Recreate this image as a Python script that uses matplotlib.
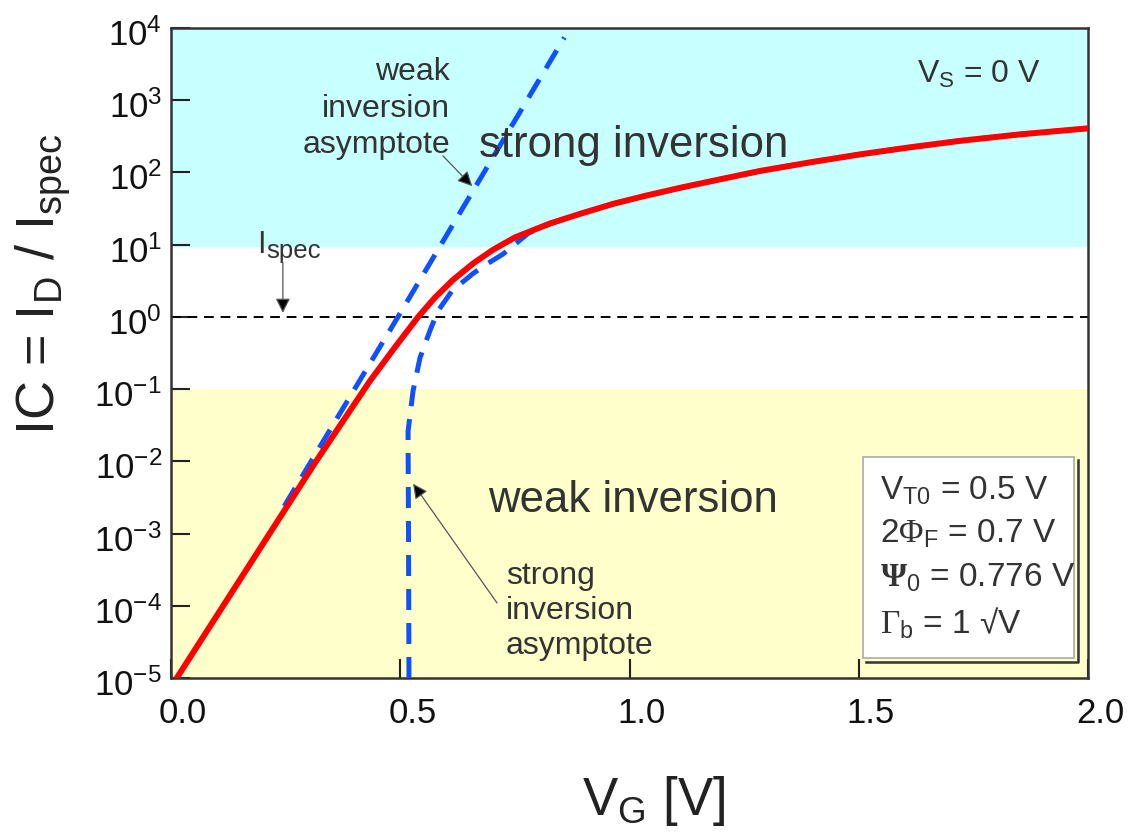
import numpy as np
import matplotlib
matplotlib.use("Agg")
import matplotlib.pyplot as plt
from matplotlib.patches import Rectangle
from matplotlib.lines import Line2D
from matplotlib.transforms import ScaledTranslation
from matplotlib.ticker import FixedLocator, FixedFormatter

plt.rcParams['font.family'] = ['Liberation Sans', 'DejaVu Sans']
plt.rcParams['mathtext.fontset'] = 'custom'
plt.rcParams['mathtext.rm'] = 'Liberation Sans'
plt.rcParams['mathtext.it'] = 'Liberation Sans:italic'
plt.rcParams['mathtext.sf'] = 'Liberation Serif'
plt.rcParams['mathtext.bf'] = 'Liberation Serif:bold'

# ---------------- data ----------------
# device characteristic IC = ID/Ispec versus VG
vg_device = [0.000, 0.314, 0.434, 0.489, 0.539, 0.576, 0.615, 0.659, 0.702,
             0.750, 0.827, 0.892, 0.964, 1.034, 1.110, 1.197, 1.285, 1.394,
             1.503, 1.612, 1.721, 1.852, 2.000]
ic_device = [7.5e-6, 9.5e-3, 0.130, 0.384, 1.0, 1.86, 3.25, 5.5, 8.47,
             12.6, 19.7, 26.7, 36.7, 47.4, 61.2, 80.2, 105.0, 138.0,
             178.0, 223.0, 274.0, 337.0, 408.0]

# weak inversion asymptote (exponential -> straight on log axis)
vg_weak = [0.247, 0.495, 0.858]
ic_weak = [2.4e-3, 1.0, 7400.0]

# strong inversion asymptote
vg_strong = [0.519, 0.518, 0.517, 0.528, 0.543, 0.565, 0.582, 0.613, 0.659,
             0.689, 0.724, 0.780, 0.827, 0.892, 0.964, 1.034, 1.110, 1.197,
             1.285, 1.394, 1.503, 1.612, 1.721, 1.852, 2.000]
ic_strong = [1e-5, 1e-3, 0.026, 0.095, 0.27, 0.65, 1.2, 2.3, 4.0,
             5.4, 7.4, 14.5, 19.5, 26.7, 36.7, 47.4, 61.2, 80.2,
             105.0, 138.0, 178.0, 223.0, 274.0, 337.0, 408.0]

ic_spec_level = 1.0
strong_region = (9.3, 1e4)
weak_region = (1e-5, 0.1)

x_ticks = [0.0, 0.5, 1.0, 1.5, 2.0]
x_ticklabels = ['0.0', '0.5', '1.0', '1.5', '2.0']
y_exponents = [-5, -4, -3, -2, -1, 0, 1, 2, 3, 4]

params = [r'V$_\mathregular{T0}$ = 0.5 V',
          r'2$\mathsf{\Phi}_\mathregular{F}$ = 0.7 V',
          r'$\mathbf{\Psi}_\mathregular{0}$ = 0.776 V',
          r'$\mathsf{\Gamma}_\mathregular{b}$ = 1 √V']

# ---------------- figure ----------------
W, H = 1133, 836
fig = plt.figure(figsize=(W / 100, H / 100), dpi=100)
ax = fig.add_axes([171 / W, 1 - 678 / H, (1088 - 171) / W, (678 - 28) / H])

def fp(x, y):
    return (x / W, 1 - y / H)

ax.set_yscale('log')
ax.set_xlim(0, 2.0)
ax.set_ylim(1e-5, 1e4)

ax.axhspan(*strong_region, color='#c8ffff', zorder=0, lw=0)
ax.axhspan(*weak_region, color='#ffffcc', zorder=0, lw=0)

ax.axhline(ic_spec_level, color='black', lw=1.4, ls=(0, (5, 3.5)), zorder=2)

blue = '#1050ff'
ax.plot(vg_weak, ic_weak, color=blue, lw=3.6, ls=(0, (4.2, 2.6)), zorder=3)
ax.plot(vg_strong, ic_strong, color=blue, lw=3.6, ls=(0, (4.2, 2.6)), zorder=3)
ax.plot(vg_device, ic_device, color='#ff0000', lw=4.3, zorder=4,
        solid_capstyle='round', solid_joinstyle='round')

# ticks
ax.xaxis.set_major_locator(FixedLocator(x_ticks))
ax.xaxis.set_major_formatter(FixedFormatter(x_ticklabels))
ax.yaxis.set_major_locator(FixedLocator([10.0 ** e for e in y_exponents]))
ax.yaxis.set_major_formatter(FixedFormatter(
    [r'$\mathregular{10^{%d}}$' % e for e in y_exponents]))
ax.yaxis.set_minor_locator(FixedLocator([]))
ax.tick_params(axis='both', which='major', direction='in', length=14,
               width=1.5, color='#222222', labelsize=25, labelcolor='#111111')
ax.tick_params(axis='x', pad=14)
ax.tick_params(axis='y', pad=6.5)
for sp in ax.spines.values():
    sp.set_linewidth(1.8)
    sp.set_color('#333333')

for lab in ax.get_xticklabels():
    lab.set_transform(lab.get_transform() + ScaledTranslation(0.12, 0, fig.dpi_scale_trans))
for lab in ax.get_yticklabels():
    lab.set_transform(lab.get_transform() + ScaledTranslation(0, -0.04, fig.dpi_scale_trans))

# axis labels
fig.text(*fp(43, 284), r'IC = I$_\mathregular{D}$ / I$_\mathregular{spec}$',
         rotation=90, ha='center', va='center', fontsize=39, color='#222222')
fig.text(*fp(582, 815), r'V$_\mathregular{G}$ [V]', ha='left', va='baseline',
         fontsize=38, color='#222222')

tc = '#333333'
fig.text(*fp(479, 157), 'strong inversion', fontsize=31.5, color=tc, va='baseline')
fig.text(*fp(488, 512), 'weak inversion', fontsize=31.5, color=tc, va='baseline')
for s, yb in zip(['weak', 'inversion', 'asymptote'], [80, 117, 153]):
    fig.text(*fp(450, yb), s, fontsize=23, color=tc, ha='right', va='baseline')
for s, yb in zip(['strong', 'inversion', 'asymptote'], [584, 619, 654]):
    fig.text(*fp(506, yb), s, fontsize=23, color=tc, ha='left', va='baseline')
fig.text(*fp(257, 253), 'I', fontsize=22, color=tc, va='baseline')
fig.text(*fp(266, 258), 'spec', fontsize=18.5, color=tc, va='baseline')
fig.text(*fp(917, 83), r'V$_\mathregular{S}$ = 0 V', fontsize=23, color=tc, va='baseline')

arrow_head = dict(arrowstyle='-|>', lw=0.9, mutation_scale=22, shrinkA=0, shrinkB=0,
                  fc='black', ec='#555555')
ax.annotate('', xy=(0.657, 10 ** 1.81), xytext=(0.593, 10 ** 2.23), arrowprops=arrow_head, zorder=5)
ax.annotate('', xy=(0.528, 10 ** -2.31), xytext=(0.711, 10 ** -3.96), arrowprops=arrow_head, zorder=5)
ax.annotate('', xy=(0.244, 10 ** 0.055), xytext=(0.244, 10 ** 0.75), arrowprops=arrow_head, zorder=5)

# parameter box
fig.add_artist(Rectangle(fp(863, 658), (1074 - 863) / W, (658 - 457) / H,
                         facecolor='white', edgecolor='#aaaaaa', lw=1.2, zorder=6))
fig.add_artist(Line2D([fp(866, 0)[0], fp(1078, 0)[0], fp(1078, 0)[0]],
                      [fp(0, 662)[1], fp(0, 662)[1], fp(0, 460)[1]],
                      color='#333333', lw=1.8, zorder=6))
for s, yb in zip(params, [500, 543, 587, 634]):
    t = fig.text(*fp(880, yb), s, fontsize=24, color=tc, va='baseline')
    t.set_zorder(7)

fig.savefig('out.png', dpi=100)
